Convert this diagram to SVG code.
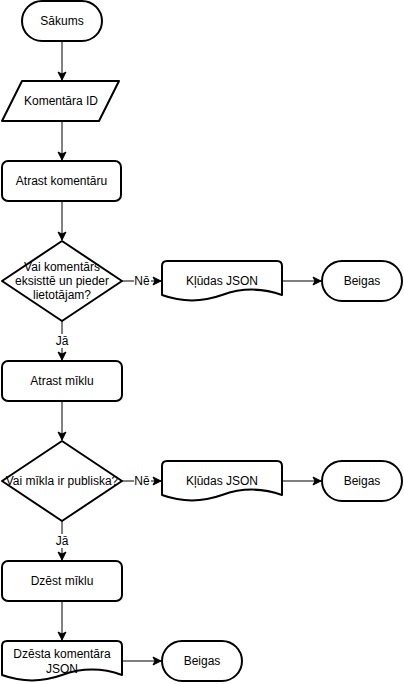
<svg xmlns="http://www.w3.org/2000/svg" width="404" height="684" viewBox="0 0 404 684">
<style>
.s{fill:#fff;stroke:#000;stroke-width:2;stroke-linejoin:round}
.t{font-family:"Liberation Sans",Arial,sans-serif;font-size:12px;fill:#000;text-anchor:middle}
.e{stroke:#000;stroke-width:1;fill:none}
.lb{fill:#fff;stroke:none}
</style>
<defs>
<marker id="ar" markerUnits="userSpaceOnUse" markerWidth="10" markerHeight="10" refX="9" refY="4.5" orient="auto" viewBox="0 0 10 9">
<path d="M1,0.5 L9,4.5 L1,8.5 L3,4.5 z" fill="#000" stroke="#000" stroke-width="1"/>
</marker>
</defs>
<rect width="404" height="684" fill="#fff"/>
<g id="connectors">
<line class="e" x1="62" y1="41" x2="62" y2="80" marker-end="url(#ar)"/>
<line class="e" x1="62" y1="121" x2="62" y2="160" marker-end="url(#ar)"/>
<line class="e" x1="62" y1="201" x2="62" y2="240" marker-end="url(#ar)"/>
<line class="e" x1="122" y1="281" x2="161" y2="281" marker-end="url(#ar)"/>
<line class="e" x1="282" y1="281" x2="321" y2="281" marker-end="url(#ar)"/>
<line class="e" x1="62" y1="321" x2="62" y2="360" marker-end="url(#ar)"/>
<line class="e" x1="62" y1="401" x2="62" y2="440" marker-end="url(#ar)"/>
<line class="e" x1="122" y1="481" x2="161" y2="481" marker-end="url(#ar)"/>
<line class="e" x1="282" y1="481" x2="321" y2="481" marker-end="url(#ar)"/>
<line class="e" x1="62" y1="521" x2="62" y2="560" marker-end="url(#ar)"/>
<line class="e" x1="62" y1="601" x2="62" y2="640" marker-end="url(#ar)"/>
<line class="e" x1="122" y1="661" x2="161" y2="661" marker-end="url(#ar)"/>
<rect class="lb" x="134" y="274" width="17" height="14"/>
<text class="t" x="142" y="285">Nē</text>
<rect class="lb" x="54" y="334" width="16" height="14"/>
<text class="t" x="62" y="345">Jā</text>
<rect class="lb" x="134" y="474" width="17" height="14"/>
<text class="t" x="142" y="485">Nē</text>
<rect class="lb" x="54" y="534" width="16" height="14"/>
<text class="t" x="62" y="545">Jā</text>
</g>
<g id="start">
<rect class="s" x="22" y="1" width="80" height="40" rx="20"/>
<text class="t" x="62" y="25">Sākums</text>
</g>
<g id="input">
<polygon class="s" points="22,81 119,81 99,121 2,121"/>
<text class="t" x="61" y="105">Komentāra ID</text>
</g>
<g id="findComment">
<rect class="s" x="2" y="161" width="119" height="40" rx="6"/>
<text class="t" x="61.5" y="185">Atrast komentāru</text>
</g>
<g id="decision1">
<polygon class="s" points="62,241 122,281 62,321 2,281"/>
<text class="t" x="62" y="270.6">Vai komentārs</text>
<text class="t" x="62" y="285">eksisttē un pieder</text>
<text class="t" x="62" y="299.4">lietotājam?</text>
</g>
<g id="error1">
<path class="s" d="M167,261 L277,261 Q282,261 282,266 L282,295 Q252,284.2 222,295 Q192,305.8 162,295 L162,266 Q162,261 167,261 Z"/>
<text class="t" x="222" y="285">Kļūdas JSON</text>
</g>
<g id="end1">
<rect class="s" x="322" y="261" width="80" height="40" rx="20"/>
<text class="t" x="362" y="285">Beigas</text>
</g>
<g id="findPuzzle">
<rect class="s" x="2" y="361" width="120" height="40" rx="6"/>
<text class="t" x="62" y="385">Atrast mīklu</text>
</g>
<g id="decision2">
<polygon class="s" points="62,441 122,481 62,521 2,481"/>
<text class="t" x="62" y="485">Vai mīkla ir publiska?</text>
</g>
<g id="error2">
<path class="s" d="M167,461 L277,461 Q282,461 282,466 L282,495 Q252,484.2 222,495 Q192,505.8 162,495 L162,466 Q162,461 167,461 Z"/>
<text class="t" x="222" y="485">Kļūdas JSON</text>
</g>
<g id="end2">
<rect class="s" x="322" y="461" width="80" height="40" rx="20"/>
<text class="t" x="362" y="485">Beigas</text>
</g>
<g id="deletePuzzle">
<rect class="s" x="2" y="561" width="120" height="40" rx="6"/>
<text class="t" x="62" y="585">Dzēst mīklu</text>
</g>
<g id="deletedJson">
<path class="s" d="M7,641 L117,641 Q122,641 122,646 L122,675 Q92,664.2 62,675 Q32,685.8 2,675 L2,646 Q2,641 7,641 Z"/>
<text class="t" x="62" y="658.2">Dzēsta komentāra</text>
<text class="t" x="62" y="672.6">JSON</text>
</g>
<g id="end3">
<rect class="s" x="162" y="641" width="80" height="40" rx="20"/>
<text class="t" x="202" y="665">Beigas</text>
</g>
</svg>
